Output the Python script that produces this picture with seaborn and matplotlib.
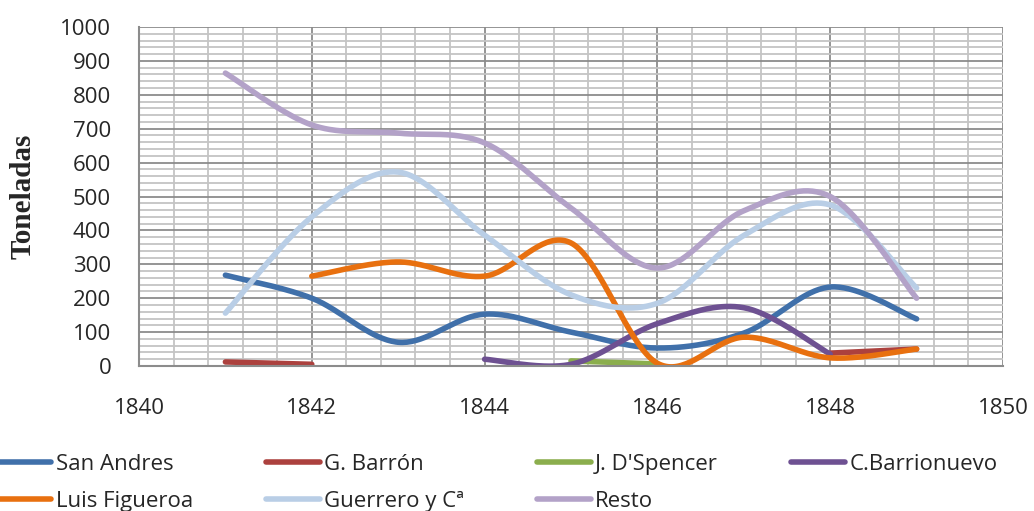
import numpy as np
import pandas as pd
import matplotlib
matplotlib.use("Agg")
import matplotlib.pyplot as plt
from matplotlib.lines import Line2D
from matplotlib.ticker import MultipleLocator
import seaborn as sns

nan = np.nan

# Tonnage per shipper, 1841-1849 (gaps where a shipper has no record)
years = [1841, 1842, 1843, 1844, 1845, 1846, 1847, 1848, 1849]
san_andres = [268, 200, 70, 153, 100, 53, 97, 233, 139]
g_barron = [12, 5, nan, nan, nan, nan, nan, 38, 50]
j_dspencer = [nan, nan, nan, nan, 15, 6, nan, nan, nan]
c_barrionuevo = [nan, nan, nan, 20, 5, 125, 172, 35, nan]
luis_figueroa = [nan, 265, 307, 265, 363, 8, 85, 24, 50]
guerrero = [156, 440, 572, 386, 210, 185, 385, 475, 230]
resto = [864, 711, 687, 658, 466, 289, 458, 500, 200]

series_names = ["San Andres", "G. Barrón", "J. D'Spencer", "C.Barrionuevo",
                "Luis Figueroa", "Guerrero y Cª", "Resto"]
series_values = [san_andres, g_barron, j_dspencer, c_barrionuevo,
                 luis_figueroa, guerrero, resto]
colors = ["#4070AA", "#AC413E", "#8BAE4D", "#6E5192",
          "#E8700F", "#B9CEE6", "#B3A2C8"]

x_ticks = [1840, 1842, 1844, 1846, 1848, 1850]
y_ticks = list(range(0, 1001, 100))


def smooth_segments(xs, ys, n=40):
    """Bezier smoothing (Catmull-Rom style control points) per unbroken run."""
    xs = np.asarray(xs, float)
    ys = np.asarray(ys, float)
    runs, cur = [], []
    for x, y in zip(xs, ys):
        if np.isnan(y):
            if cur:
                runs.append(cur)
            cur = []
        else:
            cur.append((x, y))
    if cur:
        runs.append(cur)
    out = []
    for k, run in enumerate(runs):
        p = np.array(run)
        m = len(p)
        if m < 2:
            continue
        pts = []
        t = np.linspace(0, 1, n)[:, None]
        for i in range(m - 1):
            p_prev = p[i - 1] if i > 0 else p[i]
            p_next = p[i + 2] if i + 2 < m else p[i + 1]
            c1 = p[i] + (p[i + 1] - p_prev) / 6.0
            c2 = p[i + 1] - (p_next - p[i]) / 6.0
            seg = ((1 - t) ** 3) * p[i] + 3 * ((1 - t) ** 2) * t * c1 \
                + 3 * (1 - t) * t ** 2 * c2 + t ** 3 * p[i + 1]
            pts.append(seg if i == 0 else seg[1:])
        pts = np.vstack(pts)
        out.append((k, pts))
    return out


rows = []
for name, vals in zip(series_names, series_values):
    for k, pts in smooth_segments(years, vals):
        for j, (x, y) in enumerate(pts):
            rows.append({"serie": name, "tramo": f"{name}-{k}", "orden": j,
                         "anio": x, "toneladas": y})
df = pd.DataFrame(rows)

sns.set_style("white")
plt.rcParams["font.family"] = ["Open Sans", "DejaVu Sans"]

fig = plt.figure(figsize=(10.34, 5.11), dpi=100)
ax = fig.add_axes([139 / 1034, 1 - 366 / 511, (1003 - 139) / 1034, (366 - 27) / 511])

# grid
ax.set_xlim(1840, 1850)
ax.set_ylim(0, 1000)
ax.xaxis.set_major_locator(MultipleLocator(2))
ax.xaxis.set_minor_locator(MultipleLocator(0.4))
ax.yaxis.set_major_locator(MultipleLocator(100))
ax.yaxis.set_minor_locator(MultipleLocator(20))
ax.grid(which="minor", color="#C4C4C4", lw=1.3, zorder=0)
ax.grid(which="major", color="#8C8C8C", lw=1.3, zorder=0)
ax.set_axisbelow(True)

palette = dict(zip(series_names, colors))
for name in series_names:
    sub = df[df["serie"] == name]
    if sub.empty:
        continue
    sns.lineplot(data=sub, x="anio", y="toneladas", units="tramo",
                 estimator=None, sort=False, color=palette[name], lw=4.0,
                 solid_capstyle="round", ax=ax, legend=False)

ax.set_xticks(x_ticks)
ax.set_yticks(y_ticks)
ax.set_xticklabels([str(v) for v in x_ticks])
ax.set_yticklabels([str(v) for v in y_ticks])
ax.tick_params(axis="both", which="major", labelsize=16, color="#8C8C8C",
               length=6, width=1.3, direction="out", pad=14)
ax.tick_params(axis="x", which="major", pad=17)
ax.tick_params(axis="both", which="minor", length=0)

for side in ["top", "right"]:
    ax.spines[side].set_visible(False)
for side in ["left", "bottom"]:
    ax.spines[side].set_color("#8C8C8C")
    ax.spines[side].set_linewidth(1.5)

ax.set_xlabel("")
ax.set_ylabel("Toneladas", fontsize=21, fontweight="bold",
              family="Liberation Serif")
ax.yaxis.set_label_coords(-0.119, 0.5)

# legend filled row by row (matplotlib fills column by column)
order = [0, 4, 1, 5, 2, 6, 3]
handles = [Line2D([0], [0], color=colors[i], lw=4.0, solid_capstyle="round")
           for i in order]
labels = [series_names[i] for i in order]
fig.legend(handles, labels, loc="upper left", ncol=4,
           bbox_to_anchor=(-0.002, 1 - 454 / 511), frameon=False,
           fontsize=16, handlelength=2.4, handletextpad=0.2,
           columnspacing=3.3, labelspacing=0.7, borderpad=0,
           borderaxespad=0)

fig.savefig("out.png", dpi=100)
